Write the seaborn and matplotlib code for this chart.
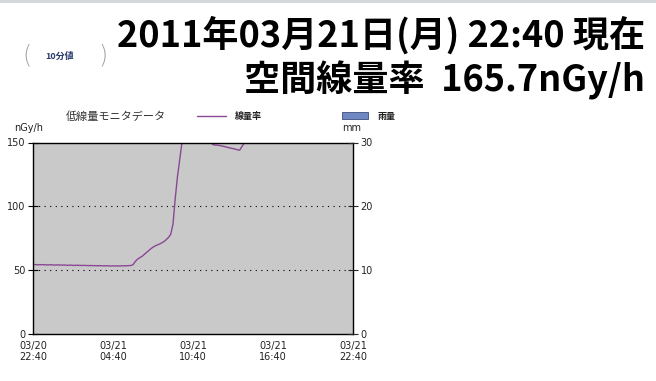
import numpy as np
import pandas as pd
import matplotlib
matplotlib.use("Agg")
import matplotlib.pyplot as plt
import matplotlib.dates as mdates
from matplotlib.patches import Rectangle
from matplotlib.lines import Line2D
import seaborn as sns

# 10-minute readings, 2011-03-20 22:40 .. 2011-03-21 22:40 (nGy/h)
start_time = "2011-03-20 22:40"
end_time = "2011-03-21 22:40"
dose_rate = [
    54.2, 54.1, 54.0, 54.0, 54.1, 54.0, 53.9, 53.9, 54.0, 53.8, 53.8, 53.9,
    53.8, 53.7, 53.8, 53.6, 53.6, 53.7, 53.5, 53.5, 53.6, 53.5, 53.4, 53.5,
    53.4, 53.3, 53.4, 53.3, 53.3, 53.2, 53.3, 53.2, 53.1, 53.2, 53.1, 53.0,
    53.1, 53.0, 53.1, 53.0, 53.2, 53.1, 53.2, 53.3, 53.4, 54.0, 56.5, 58.3,
    59.5, 60.5, 62.0, 63.5, 65.0, 66.5, 67.8, 68.8, 69.6, 70.3, 71.2, 72.3,
    73.8, 75.5, 78.0, 86.0, 106.0, 123.0, 136.0, 149.5, 158.0, 164.0, 168.0, 170.0,
    171.0, 170.0, 168.0, 165.0, 161.0, 157.0, 154.0, 152.0, 150.2, 148.3, 148.0, 147.9,
    147.6, 147.2, 146.9, 146.4, 146.0, 145.6, 145.2, 144.8, 144.3, 144.0, 146.8, 149.4,
    152.5, 155.0, 157.0, 159.0, 160.0, 161.0, 162.0, 162.5, 163.0, 163.5, 164.0, 164.0,
    164.5, 164.5, 165.0, 165.0, 164.8, 165.0, 165.2, 165.0, 165.3, 165.1, 165.4, 165.3,
    165.5, 165.4, 165.6, 165.5, 165.3, 165.5, 165.6, 165.4, 165.6, 165.5, 165.7, 165.6,
    165.5, 165.7, 165.6, 165.8, 165.6, 165.7, 165.9, 165.7, 165.6, 165.8, 165.7, 165.6,
    165.7,
]
dose_ticks = [0, 50, 100, 150]
rain_ticks = [0, 10, 20, 30]
time_tick_labels = ["03/20\n22:40", "03/21\n04:40", "03/21\n10:40",
                    "03/21\n16:40", "03/21\n22:40"]

headline_time = "2011年03月21日(月) 22:40 現在"
headline_value = "空間線量率  165.7nGy/h"
chart_title = "低線量モニタデータ"
legend_line_label = "線量率"
legend_bar_label = "雨量"
dose_unit = "nGy/h"
rain_unit = "mm"
interval_label = "10分値"

times = pd.date_range(start_time, end_time, freq="10min")
df = pd.DataFrame({"time": times, "dose": dose_rate})

sns.set_style("white")
plt.rcParams["font.family"] = ["DejaVu Sans", "Noto Sans CJK JP"]

W, H = 656, 381
fig = plt.figure(figsize=(W / 100, H / 100), dpi=100)
fig.patch.set_facecolor("white")


def fx(x):
    return x / W


def fy(y):
    return 1 - y / H


# thin header band at the very top of the page
fig.patches.append(Rectangle((0, fy(3)), 1, 3 / H, transform=fig.transFigure,
                             facecolor="#d5d9de", edgecolor="none"))

ax = fig.add_axes([fx(33), fy(333.5), fx(353) - fx(33), fy(142.5) - fy(333.5)])
ax.set_facecolor("#c9c9c9")

sns.lineplot(data=df, x="time", y="dose", ax=ax, color="#8a4795", lw=1.0)

ax.set_xlim(times[0], times[-1])
ax.set_ylim(dose_ticks[0], dose_ticks[-1])
ax.set_xlabel("")
ax.set_ylabel("")

major_times = pd.date_range(start_time, end_time, freq="6h")
minor_times = pd.date_range(start_time, end_time, freq="3h")
ax.set_xticks(mdates.date2num(major_times))
ax.set_xticklabels(time_tick_labels, fontsize=7, linespacing=1.15, color="#222222")
ax.set_xticks(mdates.date2num(minor_times), minor=True)
ax.set_yticks(dose_ticks)
ax.set_yticklabels([str(v) for v in dose_ticks], fontsize=7, color="#222222")

for v in dose_ticks[1:-1]:
    ax.axhline(v, color="black", lw=0.8, linestyle=(0, (1, 4)))

for s in ax.spines.values():
    s.set_color("black")
    s.set_linewidth(1.0)

ax.tick_params(axis="both", which="both", direction="inout", length=7, width=0.8,
               color="black")
ax.tick_params(axis="x", which="major", pad=2)
ax.tick_params(axis="y", pad=2)

ax2 = ax.twinx()
ax2.set_ylim(rain_ticks[0], rain_ticks[-1])
ax2.set_yticks(rain_ticks)
ax2.set_yticklabels([str(v) for v in rain_ticks], fontsize=7, color="#222222")
ax2.tick_params(axis="y", direction="inout", length=7, width=0.8, pad=2)
for s in ax2.spines.values():
    s.set_visible(False)
ax2.grid(False)

# headline
head_family = ["Noto Sans CJK JP"]
fig.text(fx(645), fy(47), headline_time, ha="right", va="baseline", fontsize=26,
         fontweight="bold", family=head_family, color="black")
fig.text(fx(645), fy(92), headline_value, ha="right", va="baseline", fontsize=26,
         fontweight="bold", family=head_family, color="black")

# interval selector
fig.text(fx(27), fy(55), "(", ha="center", va="center", fontsize=17,
         fontweight="light", color="#a0a0a0", family=["DejaVu Sans"])
fig.text(fx(103), fy(55), ")", ha="center", va="center", fontsize=17,
         fontweight="light", color="#a0a0a0", family=["DejaVu Sans"])
fig.text(fx(60), fy(56), interval_label, ha="center", va="center", fontsize=6.5,
         fontweight="bold", color="#2b3a6b", family=["Noto Sans CJK JP"])

# chart header and legend
fig.text(fx(66), fy(117), chart_title, ha="left", va="center", fontsize=8,
         color="#333333", family=["Noto Sans CJK JP"])
fig.lines.append(Line2D([fx(197), fx(226)], [fy(116), fy(116)],
                        transform=fig.transFigure, color="#8a4795", lw=1.0))
fig.text(fx(235), fy(116), legend_line_label, ha="left", va="center", fontsize=6.5,
         fontweight="bold", color="#222222", family=["Noto Sans CJK JP"])
fig.patches.append(Rectangle((fx(342), fy(118.5)), fx(368) - fx(342), 6.5 / H,
                             transform=fig.transFigure, facecolor="#6f88c2",
                             edgecolor="#3c4c7a", lw=0.6))
fig.text(fx(378), fy(116), legend_bar_label, ha="left", va="center", fontsize=6.5,
         fontweight="bold", color="#222222", family=["Noto Sans CJK JP"])
fig.text(fx(29), fy(128), dose_unit, ha="center", va="center", fontsize=7,
         color="#222222")
fig.text(fx(352), fy(128), rain_unit, ha="center", va="center", fontsize=7,
         color="#222222")

fig.savefig("out.png", dpi=100)
